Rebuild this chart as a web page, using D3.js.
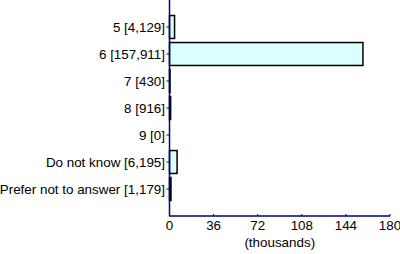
<!DOCTYPE html>
<html><head><meta charset="utf-8">
<script src="https://cdn.jsdelivr.net/npm/d3@7"></script>
<style>body{margin:0;background:#fff}svg{display:block}text{font-family:"Liberation Sans",Arial,sans-serif}</style>
</head><body><svg id="c" width="400" height="254"></svg>
<script>
const categories = ["5 [4,129]","6 [157,911]","7 [430]","8 [916]","9 [0]","Do not know [6,195]","Prefer not to answer [1,179]"];
const values = [4.129,157.911,0.430,0.916,0,6.195,1.179];
const xTicks = [0,36,72,108,144,180];
const xTitle = "(thousands)";

const fs = 13.4;
const svg = d3.select("#c");
const x = d3.scaleLinear().domain([0,180]).range([169.5,390]);
const y = d3.scaleBand().domain(categories).range([13.5,202.5]).paddingInner(0.15).paddingOuter(0.075);

svg.selectAll("rect.bar").data(values).enter().append("rect")
  .attr("class","bar")
  .attr("x", x(0))
  .attr("y",(d,i)=>y(categories[i]))
  .attr("width",d=>Math.max(0,x(d)-x(0)))
  .attr("height",y.bandwidth())
  .attr("fill","#d9ffff")
  .attr("stroke","#000")
  .attr("stroke-width",1.5)
  .attr("visibility",d=>d>0?"visible":"hidden");

// y axis
const gy = svg.append("g").attr("transform",`translate(${x(0)},0)`);
gy.append("line").attr("x1",0).attr("x2",0).attr("y1",0).attr("y2",216.5).attr("stroke","#000080").attr("stroke-width",1.5);
categories.forEach(c=>{
  const cy = y(c)+y.bandwidth()/2;
  gy.append("line").attr("x1",-3).attr("x2",0).attr("y1",cy).attr("y2",cy).attr("stroke","#000080");
  gy.append("text").attr("x",-4.5).attr("y",cy).attr("dy","0.35em").attr("text-anchor","end")
    .attr("font-size",fs).attr("fill","#000").text(c);
});

// x axis
const gx = svg.append("g").attr("transform","translate(0,216)");
gx.append("line").attr("x1",x(0)).attr("x2",x(180)).attr("y1",0).attr("y2",0).attr("stroke","#000080").attr("stroke-width",1.5);
xTicks.forEach(t=>{
  gx.append("line").attr("x1",x(t)).attr("x2",x(t)).attr("y1",-2).attr("y2",0).attr("stroke","#000080");
  gx.append("text").attr("x",x(t)).attr("y",13.5).attr("text-anchor","middle").attr("font-size",fs).attr("fill","#000").text(t);
});
svg.append("text").attr("x",(x(0)+x(180))/2).attr("y",247).attr("text-anchor","middle").attr("font-size",fs).attr("fill","#000").text(xTitle);
</script></body></html>
